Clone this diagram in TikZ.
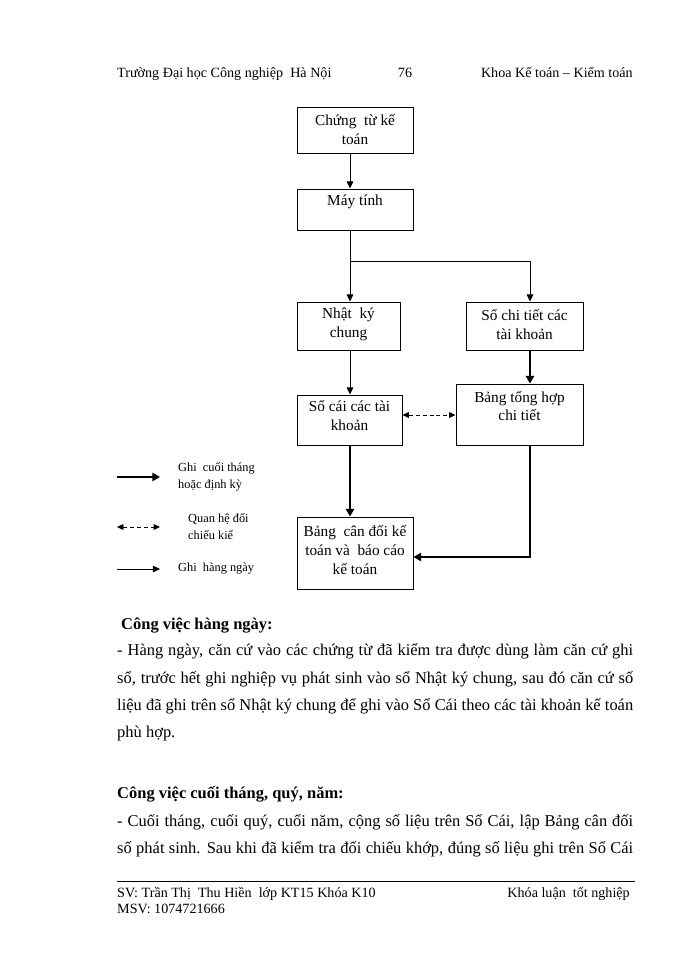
\documentclass[tikz,border=0pt]{standalone}
\usepackage{fontspec}
\setmainfont{Liberation Serif}
\usetikzlibrary{arrows.meta,calc,fit}
\tikzset{
 box/.style={draw, line width=0.8pt, inner sep=0pt},
 btext/.style={font=\fontsize{13}{16}\selectfont, align=center, inner sep=0pt},
 thinarr/.style={line width=0.8pt, -{Triangle[length=6pt,width=5.5pt]}},
 thickarr/.style={line width=2.4pt, -{Triangle[length=6.5pt,width=7pt]}},
 dasharr/.style={line width=0.8pt, dash pattern=on 3.4pt off 2.5pt, {Triangle[length=5.5pt,width=5pt]}-{Triangle[length=5.5pt,width=5pt]}},
 body/.style={font=\fontsize{14}{23.4}\selectfont, anchor=west, inner sep=0pt},
 hdr/.style={font=\fontsize{12}{14}\selectfont, inner sep=0pt},
 leg/.style={font=\fontsize{10.5}{14.5}\selectfont, align=left, anchor=west, inner sep=0pt},
}
\begin{document}
\begin{tikzpicture}[x=0.85pt,y=-0.85pt]
\useasboundingbox[fill=white] (0,0) rectangle (700,960);

% header
\node[hdr, anchor=base west] (h1) at (117,77) {Trường Đại học Công nghiệp\ \ Hà Nội};
\node[hdr, anchor=base] (h2) at (405,77) {76};
\node[hdr, anchor=base east] (h3) at (633,77) {Khoa Kế toán – Kiểm toán};

% boxes
\node[box, fit={(297,107) (413,153)}] (b1) {};
\node[btext] (t1) at (355,129.5) {Chứng\ \ từ kế\\toán};
\node[box, fit={(297,189) (413,230)}] (b2) {};
\node[btext] (t2) at (355,202) {Máy tính};
\node[box, fit={(297,302) (400,350)}] (b3) {};
\node[btext] (t3) at (348.5,324.5) {Nhật\ \ ký\\chung};
\node[box, fit={(466,302) (583,350)}] (b4) {};
\node[btext] (t4) at (524.5,324.5) {Sổ chi tiết các\\tài khoản};
\node[box, fit={(297,395) (402,445)}] (b5) {};
\node[btext] (t5) at (349.5,415.5) {Sổ cái các tài\\khoản};
\node[box, fit={(456,384) (583,445)}] (b6) {};
\node[btext] (t6) at (519.5,406) {Bảng tổng hợp\\chi tiết};
\node[box, fit={(297,517) (413,589)}] (b7) {};
\node[btext] (t7) at (355,550) {Bảng\ \ cân đối kế\\toán và\ \ báo cáo\\kế toán};

% guide coordinates
\coordinate (vL) at (350,0);
\coordinate (vR) at (530,0);
\coordinate (hB) at (0,261);
\coordinate (hD) at (0,415);
\coordinate (hC) at (0,557);

% connectors
\draw[thinarr] (b1.south -| vL) -- (b2.north -| vL);
\draw[thinarr] (b2.south -| vL) -- (b3.north -| vL);
\draw[thinarr] (vL |- hB) -| (b4.north -| vR);
\draw[thinarr] (b3.south -| vL) -- (b5.north -| vL);
\draw[thickarr] (b4.south -| vR) -- (b6.north -| vR);
\draw[dasharr] (b5.east |- hD) -- (b6.west |- hD);
\draw[thickarr] (b5.south -| vL) -- (b7.north -| vL);
\draw[thickarr] (b6.south -| vR) |- (b7.east |- hC);

% legend
\coordinate (l1a) at (117,477); \coordinate (l1b) at (160,477);
\coordinate (l2a) at (117,527); \coordinate (l2b) at (160,527);
\coordinate (l3a) at (117,569); \coordinate (l3b) at (160,569);
\draw[thickarr, line width=2pt] (l1a) -- (l1b);
\draw[dasharr] (l2a) -- (l2b);
\draw[thinarr] (l3a) -- (l3b);
\node[leg] (g1) at (178,476.5) {Ghi\ \ cuối tháng\\hoặc định kỳ};
\node[leg] (g2) at (188,526.5) {Quan hệ đối\\chiếu kiể};
\node[leg] (g3) at (178,569) {Ghi\ \ hàng ngày};

% body text
\node[body] (p0) at (121,626) {\textbf{Công việc hàng ngày:}};
\node[body] (p1) at (117,651) {\makebox[438.6pt][s]{- Hàng ngày, căn cứ vào các chứng từ đã kiểm tra được dùng làm căn cứ ghi}};
\node[body] (p2) at (117,679) {\makebox[438.6pt][s]{sổ, trước hết ghi nghiệp vụ phát sinh vào sổ Nhật ký chung, sau đó căn cứ số}};
\node[body] (p3) at (117,706) {\makebox[438.6pt][s]{liệu đã ghi trên sổ Nhật ký chung để ghi vào Sổ Cái theo các tài khoản kế toán}};
\node[body] (p4) at (117,734) {phù hợp.};
\node[body] (q0) at (117,794) {\textbf{Công việc cuối tháng, quý, năm:}};
\node[body] (q1) at (117,822) {\makebox[438.6pt][s]{- Cuối tháng, cuối quý, cuối năm, cộng số liệu trên Sổ Cái, lập Bảng cân đối}};
\node[body] (q2) at (117,849) {\makebox[438.6pt][s]{số phát sinh. Sau khi đã kiểm tra đối chiếu khớp, đúng số liệu ghi trên Sổ Cái}};

% footer
\draw[line width=0.6pt] (117,881) -- (635,881);
\node[hdr, anchor=base west] (f1) at (117,897) {SV: Trần Thị\ \ Thu Hiền\ \ lớp KT15 Khóa K10};
\node[hdr, anchor=base west] (f2) at (117,913) {MSV: 1074721666};
\node[hdr, anchor=base east] (f3) at (630,897) {Khóa luận\ \ tốt nghiệp};
\end{tikzpicture}
\end{document}
